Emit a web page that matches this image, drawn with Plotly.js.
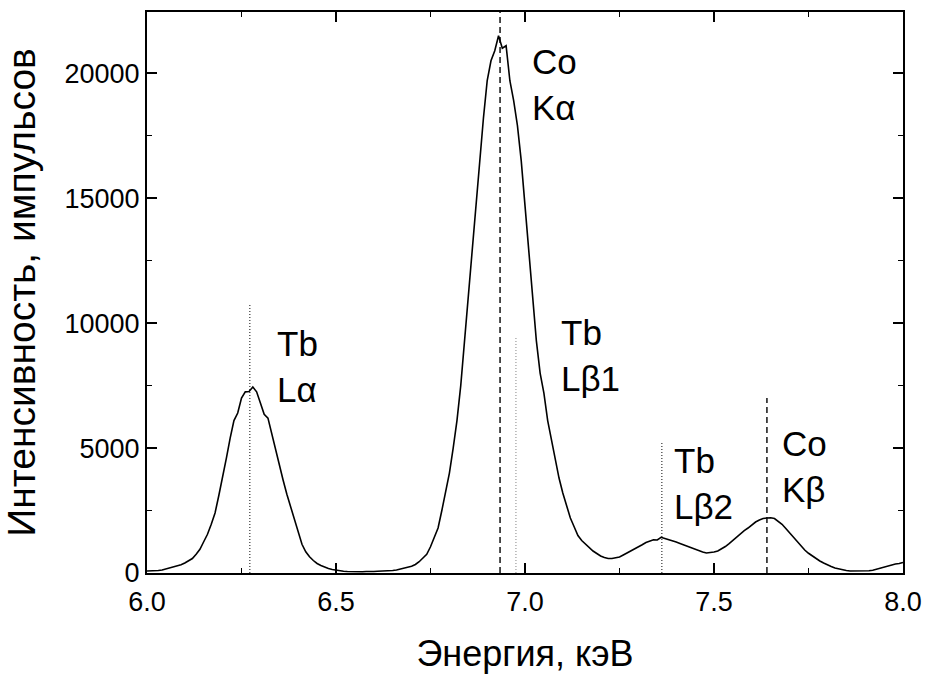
<!DOCTYPE html>
<html>
<head>
<meta charset="utf-8">
<script src="https://cdn.plot.ly/plotly-3.0.1.min.js"></script>
<style>html,body{margin:0;padding:0;background:#fff;}#chart{width:925px;height:677px;}</style>
</head>
<body>
<div id="chart"></div>
<script>
// Energy axis (keV)
const energy = [
6.00,6.01,6.02,6.03,6.04,6.05,6.06,6.07,6.08,6.09,
6.10,6.11,6.12,6.13,6.14,6.15,6.16,6.17,6.18,6.19,
6.20,6.21,6.22,6.23,6.24,6.25,6.26,6.27,6.28,6.29,
6.30,6.31,6.32,6.33,6.34,6.35,6.36,6.37,6.38,6.39,
6.40,6.41,6.42,6.43,6.44,6.45,6.46,6.47,6.48,6.49,
6.50,6.51,6.52,6.53,6.54,6.55,6.56,6.57,6.58,6.59,
6.60,6.61,6.62,6.63,6.64,6.65,6.66,6.67,6.68,6.69,
6.70,6.71,6.72,6.73,6.74,6.75,6.76,6.77,6.78,6.79,
6.80,6.81,6.82,6.83,6.84,6.85,6.86,6.87,6.88,6.89,
6.90,6.91,6.92,6.93,6.94,6.95,6.96,6.97,6.98,6.99,
7.00,7.01,7.02,7.03,7.04,7.05,7.06,7.07,7.08,7.09,
7.10,7.11,7.12,7.13,7.14,7.15,7.16,7.17,7.18,7.19,
7.20,7.21,7.22,7.23,7.24,7.25,7.26,7.27,7.28,7.29,
7.30,7.31,7.32,7.33,7.34,7.35,7.36,7.37,7.38,7.39,
7.40,7.41,7.42,7.43,7.44,7.45,7.46,7.47,7.48,7.49,
7.50,7.51,7.52,7.53,7.54,7.55,7.56,7.57,7.58,7.59,
7.60,7.61,7.62,7.63,7.64,7.65,7.66,7.67,7.68,7.69,
7.70,7.71,7.72,7.73,7.74,7.75,7.76,7.77,7.78,7.79,
7.80,7.81,7.82,7.83,7.84,7.85,7.86,7.87,7.88,7.89,
7.90,7.91,7.92,7.93,7.94,7.95,7.96,7.97,7.98,7.99,
8.00];
// Intensity (counts)
const counts = [
80,80,90,100,120,160,190,230,270,330,
400,480,580,750,950,1250,1550,1950,2400,3100,
3800,4600,5400,6100,6400,7000,7250,7260,7440,7250,
6800,6350,6200,5550,4950,4300,3720,3150,2650,2200,
1600,1150,850,650,500,380,300,230,180,140,
110,90,70,60,50,50,40,50,60,50,
60,70,70,80,90,100,120,150,180,230,
270,340,450,600,750,1050,1400,1800,2500,3200,
4000,5000,6100,7500,9300,11000,12900,14700,16500,18200,
19700,20500,20900,21500,21000,21100,19700,18900,17900,16500,
14700,13000,11300,9300,8000,7200,6100,5300,4500,3800,
3200,2700,2200,1850,1500,1300,1150,1000,880,780,
680,620,580,580,600,640,720,800,860,950,
1040,1130,1220,1280,1330,1320,1430,1380,1340,1300,
1240,1180,1120,1060,1000,950,900,840,800,810,
840,880,960,1060,1180,1320,1460,1580,1700,1800,
1920,2040,2120,2180,2200,2210,2180,2080,1950,1780,
1600,1420,1250,1080,920,790,680,580,480,400,
320,260,200,160,120,100,80,80,70,80,
80,90,110,150,200,260,300,330,360,380,
420];

// Reference emission lines
const lineNames = ["Tb<br>L\u03b1", "Co<br>K\u03b1", "Tb<br>L\u03b21", "Tb<br>L\u03b22", "Co<br>K\u03b2"];
const lineEnergy = [6.272, 6.934, 6.976, 7.362, 7.640];
const lineTop = [10800, 22450, 9400, 5240, 7000];
const lineKind = ["Tb", "Co", "Tb", "Tb", "Co"];
// label anchor (data coords)
const labelX = [6.339, 7.013, 7.090, 7.389, 7.675];
const labelY = [8250, 19550, 8700, 3600, 4250];

const yMax = 22450;
const font = "Liberation Sans, Arial, sans-serif";

const traces = [];
for (let i = 0; i < lineEnergy.length; i++) {
  const isCo = lineKind[i] === "Co";
  const faint = i === 2;
  traces.push({
    x: [lineEnergy[i], lineEnergy[i]],
    y: [0, lineTop[i]],
    mode: "lines",
    type: "scatter",
    hoverinfo: "skip",
    showlegend: false,
    line: {
      color: isCo ? "#222" : (faint ? "#999" : "#333"),
      width: isCo ? 1.6 : 1.2,
      dash: isCo ? "6px,4px" : "1px,2px"
    }
  });
}
traces.push({
  x: energy, y: counts, mode: "lines", type: "scatter",
  line: {color: "#000", width: 1.6}, showlegend: false
});

const annotations = lineNames.map((t, i) => ({
  x: labelX[i], y: labelY[i], xref: "x", yref: "y",
  text: t, showarrow: false, xanchor: "left", yanchor: "middle", align: "left",
  font: {family: font, size: 35, color: "#000"}
}));

const layout = {
  width: 925, height: 677,
  margin: {l: 147, r: 22, t: 12, b: 104, pad: 0},
  paper_bgcolor: "#fff", plot_bgcolor: "#fff",
  showlegend: false,
  font: {family: font, color: "#000"},
  xaxis: {
    range: [6, 8], dtick: 0.5, tick0: 6, tickformat: ".1f",
    ticks: "inside", ticklen: 10, tickwidth: 1.6, tickcolor: "#000",
    minor: {dtick: 0.25, ticks: "inside", ticklen: 5, tickwidth: 1.6, tickcolor: "#000"},
    showline: true, linewidth: 2, linecolor: "#000", mirror: "allticks",
    showgrid: false, zeroline: false,
    tickfont: {family: font, size: 27},
    ticklabelstandoff: 4,
    title: {text: "Энергия, кэВ", font: {family: font, size: 36}, standoff: 24}
  },
  yaxis: {
    range: [0, yMax], dtick: 5000, tick0: 0, tickformat: "d",
    ticks: "inside", ticklen: 10, tickwidth: 1.6, tickcolor: "#000",
    minor: {dtick: 2500, ticks: "inside", ticklen: 5, tickwidth: 1.6, tickcolor: "#000"},
    showline: true, linewidth: 2, linecolor: "#000", mirror: "allticks",
    showgrid: false, zeroline: false,
    tickfont: {family: font, size: 27},
    title: {text: "Интенсивность, импульсов", font: {family: font, size: 39}, standoff: 18}
  },
  annotations: annotations
};

Plotly.newPlot("chart", traces, layout, {staticPlot: true, displayModeBar: false});
</script>
</body>
</html>
